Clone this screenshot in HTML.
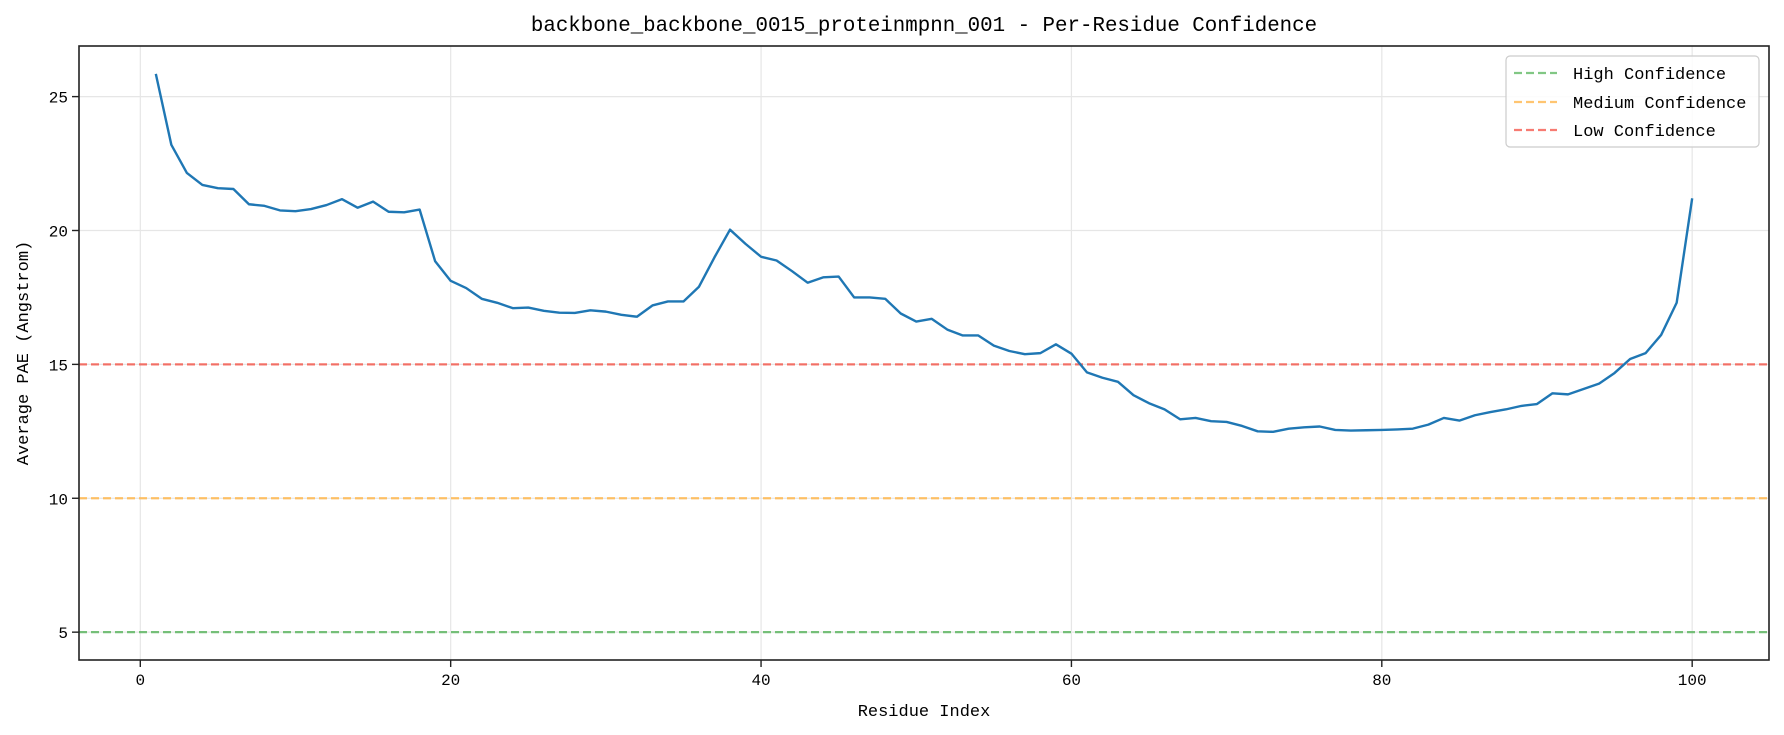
<!DOCTYPE html>
<html><head><meta charset="utf-8">
<style>
html,body{margin:0;padding:0;background:#fff;}
svg{display:block;}
text{font-family:"Liberation Mono","WenQuanYi Zen Hei",monospace;fill:#000;}
</style></head>
<body>
<svg id="chart" width="1784" height="735" viewBox="0 0 1784 735" xmlns="http://www.w3.org/2000/svg">
<rect x="0" y="0" width="1784" height="735" fill="#fff"/>
<g id="grid"></g>
<g id="refs"></g>
<g id="series"></g>
<rect x="79" y="46" width="1690" height="614" fill="none" stroke="#222" stroke-width="1.6"/>
<g id="ticks"></g>
<text x="924" y="31" text-anchor="middle" font-size="20.8">backbone_backbone_0015_proteinmpnn_001 - Per-Residue Confidence</text>
<text x="924" y="716" text-anchor="middle" font-size="17">Residue Index</text>
<text transform="translate(28,353) rotate(-90)" text-anchor="middle" font-size="17">Average PAE (Angstrom)</text>
<g>
<rect x="1506" y="56" width="253" height="91" rx="4" fill="#fff" fill-opacity="0.85" stroke="#ccc" stroke-width="1.2"/>
<line x1="1514" y1="73" x2="1557" y2="73" stroke="#4caf50" stroke-opacity="0.7" stroke-width="2.2" stroke-dasharray="8,4"/>
<text x="1573" y="79" font-size="17">High Confidence</text>
<line x1="1514" y1="102" x2="1557" y2="102" stroke="#ffb74d" stroke-opacity="0.8" stroke-width="2.2" stroke-dasharray="8,4"/>
<text x="1573" y="108" font-size="17">Medium Confidence</text>
<line x1="1514" y1="130" x2="1557" y2="130" stroke="#f44336" stroke-opacity="0.7" stroke-width="2.2" stroke-dasharray="8,4"/>
<text x="1573" y="136" font-size="17">Low Confidence</text>
</g>
</svg>
<script>
const paeValues = [25.85,23.2,22.15,21.7,21.58,21.55,20.98,20.92,20.75,20.72,20.8,20.95,21.17,20.85,21.08,20.7,20.68,20.78,18.85,18.12,17.85,17.45,17.3,17.1,17.12,17.0,16.93,16.92,17.02,16.97,16.85,16.78,17.2,17.35,17.35,17.9,19.0,20.03,19.5,19.02,18.88,18.48,18.05,18.25,18.28,17.5,17.5,17.45,16.9,16.6,16.7,16.3,16.08,16.08,15.7,15.5,15.38,15.42,15.75,15.4,14.7,14.5,14.35,13.85,13.55,13.32,12.95,13.0,12.88,12.85,12.7,12.5,12.48,12.6,12.65,12.68,12.55,12.53,12.54,12.55,12.57,12.6,12.75,13.0,12.9,13.1,13.22,13.32,13.45,13.52,13.92,13.88,14.08,14.28,14.68,15.2,15.42,16.1,17.3,21.2];
const residueStart = 1;
const xTicks = [0,20,40,60,80,100];
const yTicks = [5,10,15,20,25];
const thresholds = [5,10,15];
const thresholdNames = ['high','medium','low'];

const NS = 'http://www.w3.org/2000/svg';
const L = 79, R = 1769, T = 46, B = 660;
const xMin = -3.95, xMax = 104.95, yMin = 3.96, yMax = 26.89;
function xs(v){ return L + (v - xMin) / (xMax - xMin) * (R - L); }
function ys(v){ return B - (v - yMin) / (yMax - yMin) * (B - T); }
function mk(tag, attrs, parent){ const e = document.createElementNS(NS, tag); for (const k in attrs) e.setAttribute(k, attrs[k]); parent.appendChild(e); return e; }

const grid = document.getElementById('grid');
const ticks = document.getElementById('ticks');
xTicks.forEach(t => {
  const g = mk('line', {x1: xs(t), x2: xs(t), y1: T, y2: B, stroke: '#e6e6e6', 'stroke-width': 1.2}, grid);
  
  
  const tk = mk('line', {x1: xs(t), x2: xs(t), y1: B, y2: B + 7, stroke: '#222', 'stroke-width': 1.4}, ticks);
  
  
  const lb = mk('text', {x: xs(t), y: B + 25, 'text-anchor': 'middle', 'font-size': 16}, ticks);
  lb.textContent = t;
  
  
});
yTicks.forEach(t => {
  const g = mk('line', {x1: L, x2: R, y1: ys(t), y2: ys(t), stroke: '#e6e6e6', 'stroke-width': 1.2}, grid);
  
  
  const tk = mk('line', {x1: L - 7, x2: L, y1: ys(t), y2: ys(t), stroke: '#222', 'stroke-width': 1.4}, ticks);
  
  
  const lb = mk('text', {x: L - 11, y: ys(t) + 6, 'text-anchor': 'end', 'font-size': 16}, ticks);
  lb.textContent = t;
  
  
});

const refColors = ['rgba(76,175,80,0.75)','rgba(255,183,77,0.85)','rgba(244,67,54,0.72)'];
const refs = document.getElementById('refs');
thresholds.forEach((v, i) => {
  const l = mk('line', {x1: L, x2: R, y1: ys(v), y2: ys(v), stroke: refColors[i], 'stroke-width': 2.2, 'stroke-dasharray': '8,4'}, refs);
  
  
});

const pts = paeValues.map((v, i) => xs(residueStart + i).toFixed(2) + ',' + ys(v).toFixed(2)).join(' ');
const line = mk('polyline', {points: pts, fill: 'none', stroke: '#1f77b4', 'stroke-width': 2.4, 'stroke-linejoin': 'round'}, document.getElementById('series'));


</script>
</body></html>
